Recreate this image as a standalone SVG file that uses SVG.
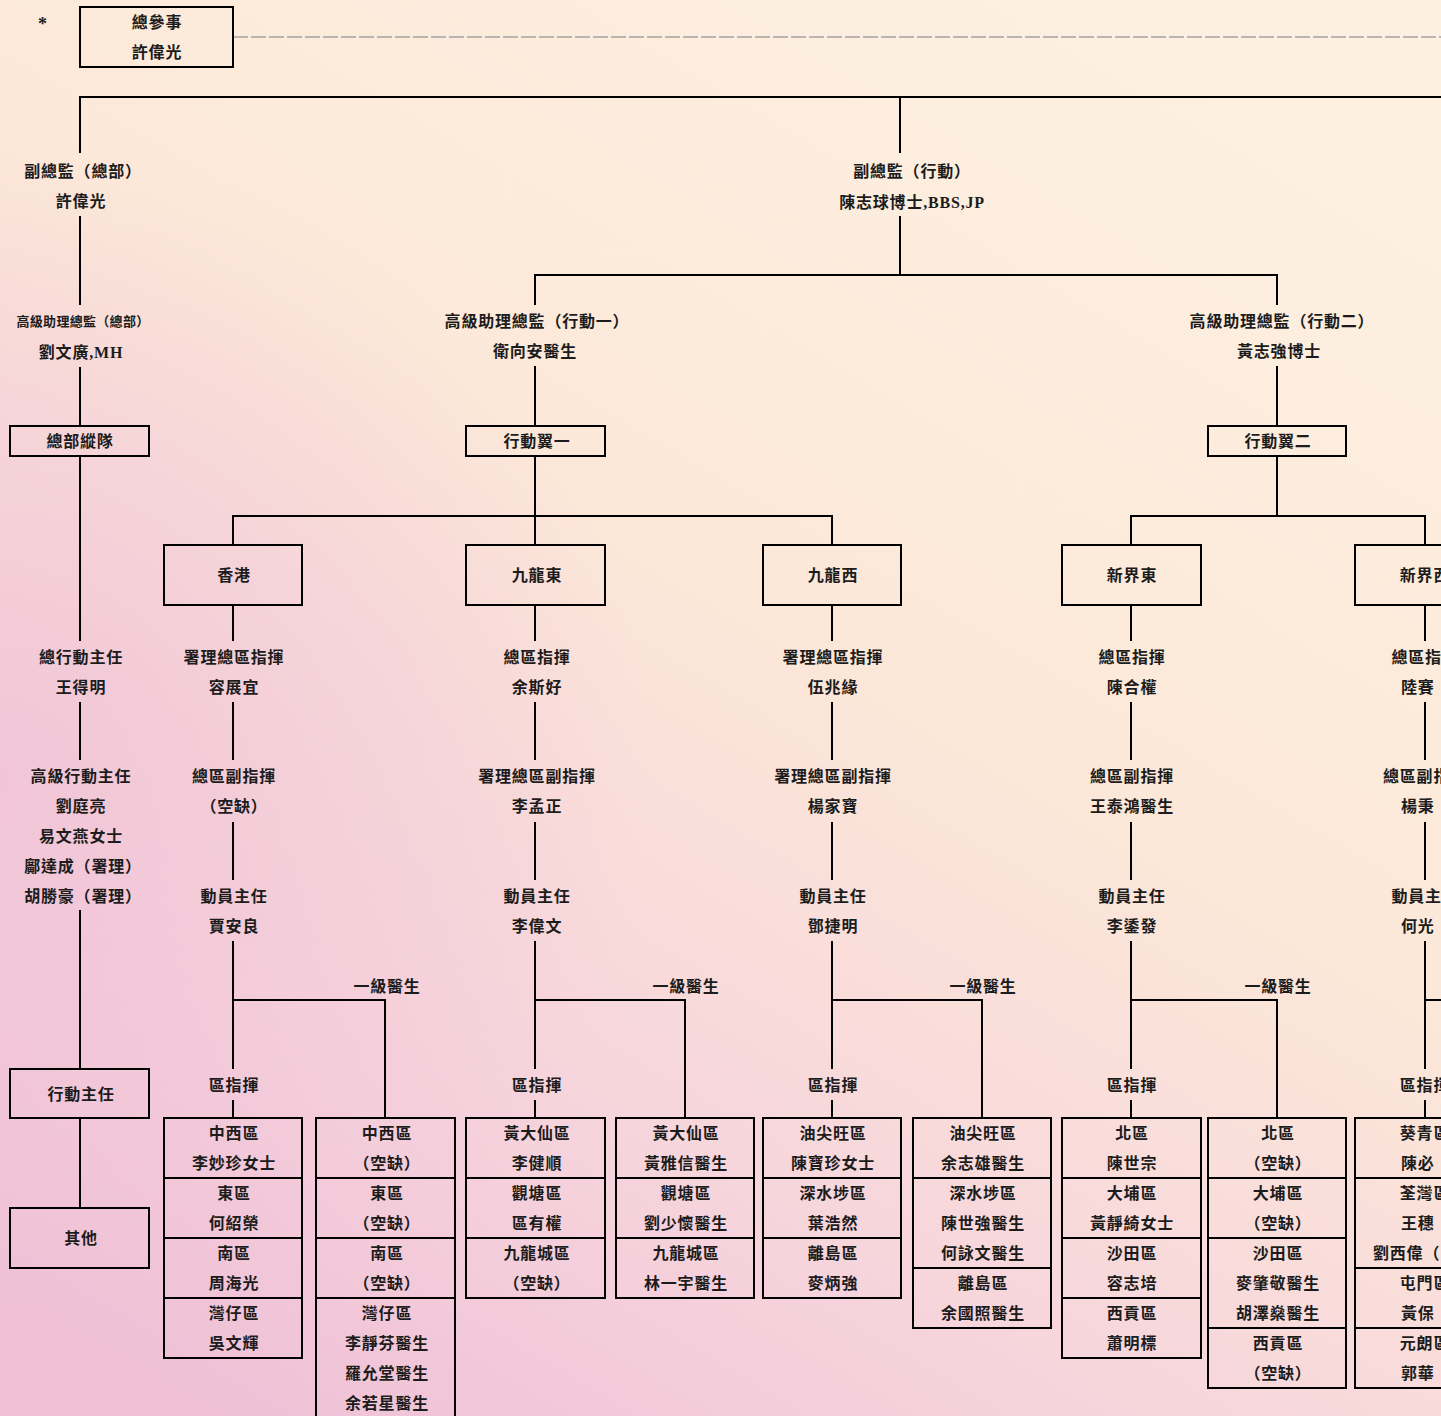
<svg xmlns="http://www.w3.org/2000/svg" width="1441" height="1416" viewBox="0 0 1441 1416">
<defs>
<linearGradient id="bg" x1="0.75" y1="0" x2="0.15" y2="1">
<stop offset="0" stop-color="#fdf0e1"/>
<stop offset="0.4" stop-color="#fce8d8"/>
<stop offset="0.75" stop-color="#f6d3dc"/>
<stop offset="1" stop-color="#efc0d6"/>
</linearGradient>
<radialGradient id="pk" cx="0" cy="0.55" r="0.45">
<stop offset="0" stop-color="#f0c2d6" stop-opacity="0.8"/>
<stop offset="1" stop-color="#f0c2d6" stop-opacity="0"/>
</radialGradient>
<style>
text{font-family:"Liberation Serif","Noto Sans CJK TC",serif;font-weight:bold;font-size:16px;fill:#1c1c1c;text-anchor:middle;dominant-baseline:central;letter-spacing:0.8px}
.s{font-size:13px;letter-spacing:0.3px}
.st{text-anchor:start}
.ln{stroke:#000;stroke-width:2;fill:none}
.bx{stroke:#000;stroke-width:2;fill:none}
.dash{stroke:#a3a3a3;stroke-width:1.5;stroke-dasharray:15 3;fill:none}
</style>
</defs>
<rect x="0" y="0" width="1441" height="1416" fill="url(#bg)"/>
<rect x="0" y="0" width="1441" height="1416" fill="url(#pk)"/>

<g id="connectors">
<path class="dash" d="M233 37H1441"/>
<path class="ln" d="M80 153V97H1441M900 97V153"/>
<path class="ln" d="M80 216V305M80 367V426M80 456V641M80 702V760M80 910V1069M80 1118V1208"/>
<path class="ln" d="M900 216V275M535 305V275H1277V305"/>
<path class="ln" d="M535 366V426M535 456V516M233 545V516H832V545M535 516V545"/>
<path class="ln" d="M1277 366V426M1277 456V516M1131 545V516H1425V545"/>
<path class="ln" d="M233 605V641M233 702V760M233 822V880M233 941V1069M233 1100V1118M233 1000H385V1118"/>
<path class="ln" d="M535 605V641M535 702V760M535 822V880M535 941V1069M535 1100V1118M535 1000H685V1118"/>
<path class="ln" d="M832 605V641M832 702V760M832 822V880M832 941V1069M832 1100V1118M832 1000H982V1118"/>
<path class="ln" d="M1131 605V641M1131 702V760M1131 822V880M1131 941V1069M1131 1100V1118M1131 1000H1277V1118"/>
<path class="ln" d="M1425 605V641M1425 702V760M1425 822V880M1425 941V1069M1425 1100V1118M1425 1000H1441"/>
</g>

<g id="star"><text x="43" y="24" style="font-size:18px">*</text></g>
<g id="chief"><rect class="bx" x="80" y="7" width="153" height="60"/><text x="157" y="22">總參事</text><text x="157" y="52">許偉光</text></g>

<g id="dc-hq"><text x="83" y="171">副總監（總部）</text><text x="81" y="201">許偉光</text></g>
<g id="sac-hq"><text class="s" x="83" y="321">高級助理總監（總部）</text><text x="81" y="352">劉文廣,MH</text></g>
<g id="hq-div"><rect class="bx" x="10" y="426" width="139" height="30"/><text x="80" y="441">總部縱隊</text></g>
<g id="cos"><text x="81" y="657">總行動主任</text><text x="81" y="687">王得明</text></g>
<g id="sos"><text x="81" y="776">高級行動主任</text><text x="81" y="806">劉庭亮</text><text x="81" y="836">易文燕女士</text><text x="83" y="866">鄺達成（署理）</text><text x="83" y="896">胡勝豪（署理）</text></g>
<g id="os"><rect class="bx" x="10" y="1069" width="139" height="49"/><text x="81" y="1094">行動主任</text></g>
<g id="others"><rect class="bx" x="10" y="1208" width="139" height="60"/><text x="81" y="1238">其他</text></g>

<g id="dc-ops"><text x="912" y="171">副總監（行動）</text><text x="912" y="202">陳志球博士,BBS,JP</text></g>
<g id="sac-ops1"><text x="537" y="321">高級助理總監（行動一）</text><text x="535" y="351">衛向安醫生</text></g>
<g id="wing1"><rect class="bx" x="466" y="426" width="139" height="30"/><text x="537" y="441">行動翼一</text></g>
<g id="sac-ops2"><text x="1282" y="321">高級助理總監（行動二）</text><text x="1279" y="351">黃志強博士</text></g>
<g id="wing2"><rect class="bx" x="1208" y="426" width="138" height="30"/><text x="1278" y="441">行動翼二</text></g>

<g id="hk">
<rect class="bx" x="164" y="545" width="138" height="60"/><text x="234" y="575">香港</text>
<text x="234" y="657">署理總區指揮</text><text x="234" y="687">容展宜</text>
<text x="234" y="776">總區副指揮</text><text x="234" y="806">（空缺）</text>
<text x="234" y="896">動員主任</text><text x="234" y="926">賈安良</text>
<text x="387" y="986">一級醫生</text>
<text x="234" y="1085">區指揮</text>
</g>
<g id="hk-table-l">
<rect class="bx" x="164" y="1118" width="138" height="240"/>
<path class="ln" d="M164 1178H302M164 1238H302M164 1298H302"/>
<text x="234" y="1133">中西區</text><text x="234" y="1163">李妙珍女士</text>
<text x="234" y="1193">東區</text><text x="234" y="1223">何紹榮</text>
<text x="234" y="1253">南區</text><text x="234" y="1283">周海光</text>
<text x="234" y="1313">灣仔區</text><text x="234" y="1343">吳文輝</text>
</g>
<g id="hk-table-r">
<rect class="bx" x="316" y="1118" width="139" height="302"/>
<path class="ln" d="M316 1178H455M316 1238H455M316 1298H455"/>
<text x="387" y="1133">中西區</text><text x="387" y="1163">（空缺）</text>
<text x="387" y="1193">東區</text><text x="387" y="1223">（空缺）</text>
<text x="387" y="1253">南區</text><text x="387" y="1283">（空缺）</text>
<text x="387" y="1313">灣仔區</text><text x="387" y="1343">李靜芬醫生</text><text x="387" y="1373">羅允堂醫生</text><text x="387" y="1403">余若星醫生</text>
</g>

<g id="ke">
<rect class="bx" x="466" y="545" width="139" height="60"/><text x="537" y="575">九龍東</text>
<text x="537" y="657">總區指揮</text><text x="537" y="687">余斯好</text>
<text x="537" y="776">署理總區副指揮</text><text x="537" y="806">李孟正</text>
<text x="537" y="896">動員主任</text><text x="537" y="926">李偉文</text>
<text x="686" y="986">一級醫生</text>
<text x="537" y="1085">區指揮</text>
</g>
<g id="ke-table-l">
<rect class="bx" x="466" y="1118" width="139" height="180"/>
<path class="ln" d="M466 1178H605M466 1238H605"/>
<text x="537" y="1133">黃大仙區</text><text x="537" y="1163">李健順</text>
<text x="537" y="1193">觀塘區</text><text x="537" y="1223">區有權</text>
<text x="537" y="1253">九龍城區</text><text x="537" y="1283">（空缺）</text>
</g>
<g id="ke-table-r">
<rect class="bx" x="616" y="1118" width="138" height="180"/>
<path class="ln" d="M616 1178H754M616 1238H754"/>
<text x="686" y="1133">黃大仙區</text><text x="686" y="1163">黃雅信醫生</text>
<text x="686" y="1193">觀塘區</text><text x="686" y="1223">劉少懷醫生</text>
<text x="686" y="1253">九龍城區</text><text x="686" y="1283">林一宇醫生</text>
</g>

<g id="kw">
<rect class="bx" x="763" y="545" width="138" height="60"/><text x="833" y="575">九龍西</text>
<text x="833" y="657">署理總區指揮</text><text x="833" y="687">伍兆緣</text>
<text x="833" y="776">署理總區副指揮</text><text x="833" y="806">楊家寶</text>
<text x="833" y="896">動員主任</text><text x="833" y="926">鄧捷明</text>
<text x="983" y="986">一級醫生</text>
<text x="833" y="1085">區指揮</text>
</g>
<g id="kw-table-l">
<rect class="bx" x="763" y="1118" width="138" height="180"/>
<path class="ln" d="M763 1178H901M763 1238H901"/>
<text x="833" y="1133">油尖旺區</text><text x="833" y="1163">陳寶珍女士</text>
<text x="833" y="1193">深水埗區</text><text x="833" y="1223">葉浩然</text>
<text x="833" y="1253">離島區</text><text x="833" y="1283">麥炳強</text>
</g>
<g id="kw-table-r">
<rect class="bx" x="913" y="1118" width="138" height="210"/>
<path class="ln" d="M913 1178H1051M913 1268H1051"/>
<text x="983" y="1133">油尖旺區</text><text x="983" y="1163">余志雄醫生</text>
<text x="983" y="1193">深水埗區</text><text x="983" y="1223">陳世強醫生</text><text x="983" y="1253">何詠文醫生</text>
<text x="983" y="1283">離島區</text><text x="983" y="1313">余國照醫生</text>
</g>

<g id="nte">
<rect class="bx" x="1062" y="545" width="139" height="60"/><text x="1132" y="575">新界東</text>
<text x="1132" y="657">總區指揮</text><text x="1132" y="687">陳合權</text>
<text x="1132" y="776">總區副指揮</text><text x="1132" y="806">王泰鴻醫生</text>
<text x="1132" y="896">動員主任</text><text x="1132" y="926">李鋈發</text>
<text x="1278" y="986">一級醫生</text>
<text x="1132" y="1085">區指揮</text>
</g>
<g id="nte-table-l">
<rect class="bx" x="1062" y="1118" width="139" height="240"/>
<path class="ln" d="M1062 1178H1201M1062 1238H1201M1062 1298H1201"/>
<text x="1132" y="1133">北區</text><text x="1132" y="1163">陳世宗</text>
<text x="1132" y="1193">大埔區</text><text x="1132" y="1223">黃靜綺女士</text>
<text x="1132" y="1253">沙田區</text><text x="1132" y="1283">容志培</text>
<text x="1132" y="1313">西貢區</text><text x="1132" y="1343">蕭明標</text>
</g>
<g id="nte-table-r">
<rect class="bx" x="1208" y="1118" width="138" height="270"/>
<path class="ln" d="M1208 1178H1346M1208 1238H1346M1208 1328H1346"/>
<text x="1278" y="1133">北區</text><text x="1278" y="1163">（空缺）</text>
<text x="1278" y="1193">大埔區</text><text x="1278" y="1223">（空缺）</text>
<text x="1278" y="1253">沙田區</text><text x="1278" y="1283">麥肇敬醫生</text><text x="1278" y="1313">胡澤燊醫生</text>
<text x="1278" y="1343">西貢區</text><text x="1278" y="1373">（空缺）</text>
</g>

<g id="ntw">
<rect class="bx" x="1355" y="545" width="140" height="60"/><text x="1425" y="575">新界西</text>
<text x="1425" y="657">總區指揮</text><text class="st" x="1401" y="687">陸賽</text>
<text x="1425" y="776">總區副指揮</text><text class="st" x="1401" y="806">楊秉</text>
<text x="1425" y="896">動員主任</text><text class="st" x="1401" y="926">何光</text>
<text x="1425" y="1085">區指揮</text>
</g>
<g id="ntw-table">
<rect class="bx" x="1355" y="1118" width="140" height="270"/>
<path class="ln" d="M1355 1178H1441M1355 1268H1441M1355 1328H1441"/>
<text x="1425" y="1133">葵青區</text><text class="st" x="1401" y="1163">陳必</text>
<text x="1425" y="1193">荃灣區</text><text class="st" x="1401" y="1223">王穗</text><text class="st" x="1373" y="1253">劉西偉（</text>
<text x="1425" y="1283">屯門區</text><text class="st" x="1401" y="1313">黃保</text>
<text x="1425" y="1343">元朗區</text><text class="st" x="1401" y="1373">郭華</text>
</g>
</svg>
